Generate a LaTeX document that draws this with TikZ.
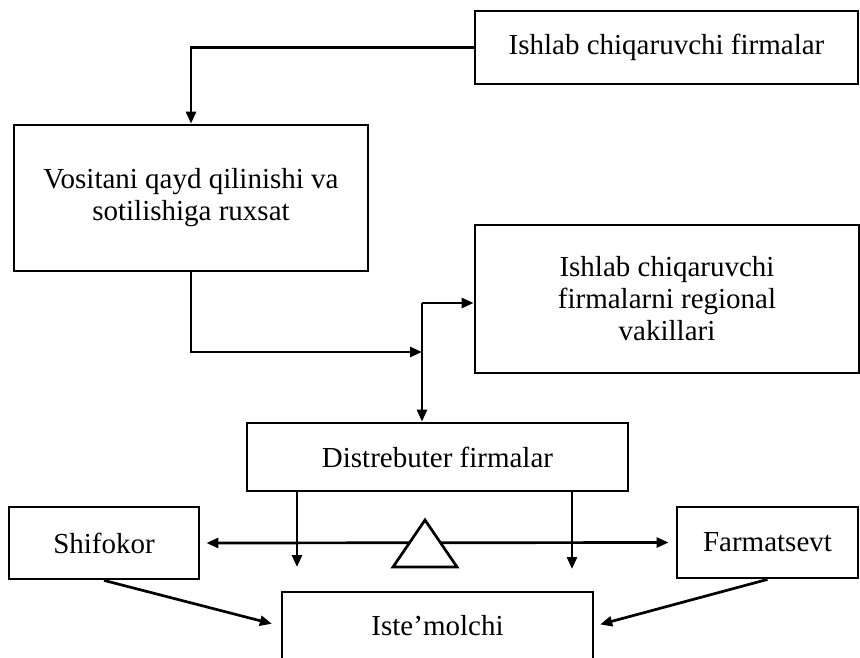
\documentclass[tikz,border=0pt]{standalone}
\usepackage{fontspec}
\setmainfont{Liberation Serif}
\usetikzlibrary{arrows.meta, positioning}

\begin{document}
\begin{tikzpicture}[x=1pt, y=-1pt,
	box/.style={shape=rectangle, draw, line width=2.8pt, inner sep=0pt, align=center, font=\fontsize{29}{32}\selectfont},
	wire/.style={line width=2.7pt, -{Triangle[length=12pt, width=10pt]}}]
	\useasboundingbox (0, 0) rectangle (860, 658);
	% Boxes:
	\node[box, minimum width=383pt, minimum height=73pt](firms) at (666.5, 47.5){Ishlab chiqaruvchi firmalar};
	\node[box, minimum width=354pt, minimum height=146pt](reg) at (191, 198){Vositani qayd qilinishi va\\sotilishiga ruxsat};
	\node[box, minimum width=384pt, minimum height=148pt](vak) at (667, 299){Ishlab chiqaruvchi\\firmalarni regional\\vakillari};
	\node[box, minimum width=381pt, minimum height=68pt](dist) at (437.5, 457){Distrebuter firmalar};
	\node[box, minimum width=190pt, minimum height=72pt](shif) at (104, 543){Shifokor};
	\node[box, minimum width=181pt, minimum height=71pt](farm) at (767.5, 542.5){Farmatsevt};
	\node[box, minimum width=311pt, minimum height=68pt](iste) at (437.5, 626){Iste’molchi};
	\coordinate (j1) at (422, 303);
	\coordinate (j2) at (422, 352);
	\coordinate (d1) at (297, 567);
	\coordinate (d2) at (572, 569);
	% Wires:
	\draw[wire] (firms.west) -| (reg.north);
	\draw[wire] (reg.south) |- (j2);
	\draw[line width=2.7pt] (j1) -- (j2);
	\draw[wire] (j1) -- (vak.west |- j1);
	\draw[wire] (j2) -- (j2 |- dist.north);
	\draw[wire] (d1 |- dist.south) -- (d1);
	\draw[wire] (d2 |- dist.south) -- (d2);
	\draw[wire, {Triangle[length=12pt, width=10pt]}-{Triangle[length=12pt, width=10pt]}, shorten <=6pt, shorten >=7pt] (shif.east) -- (farm.west);
	\draw[line width=2.7pt, fill=white] (425, 520) -- (457, 567) -- (393, 567) -- cycle;
	\draw[wire, shorten >=9pt] (shif.south) -- (iste.west);
	\draw[wire, shorten >=6pt] (farm.south) -- (iste.east);
\end{tikzpicture}
\end{document}
